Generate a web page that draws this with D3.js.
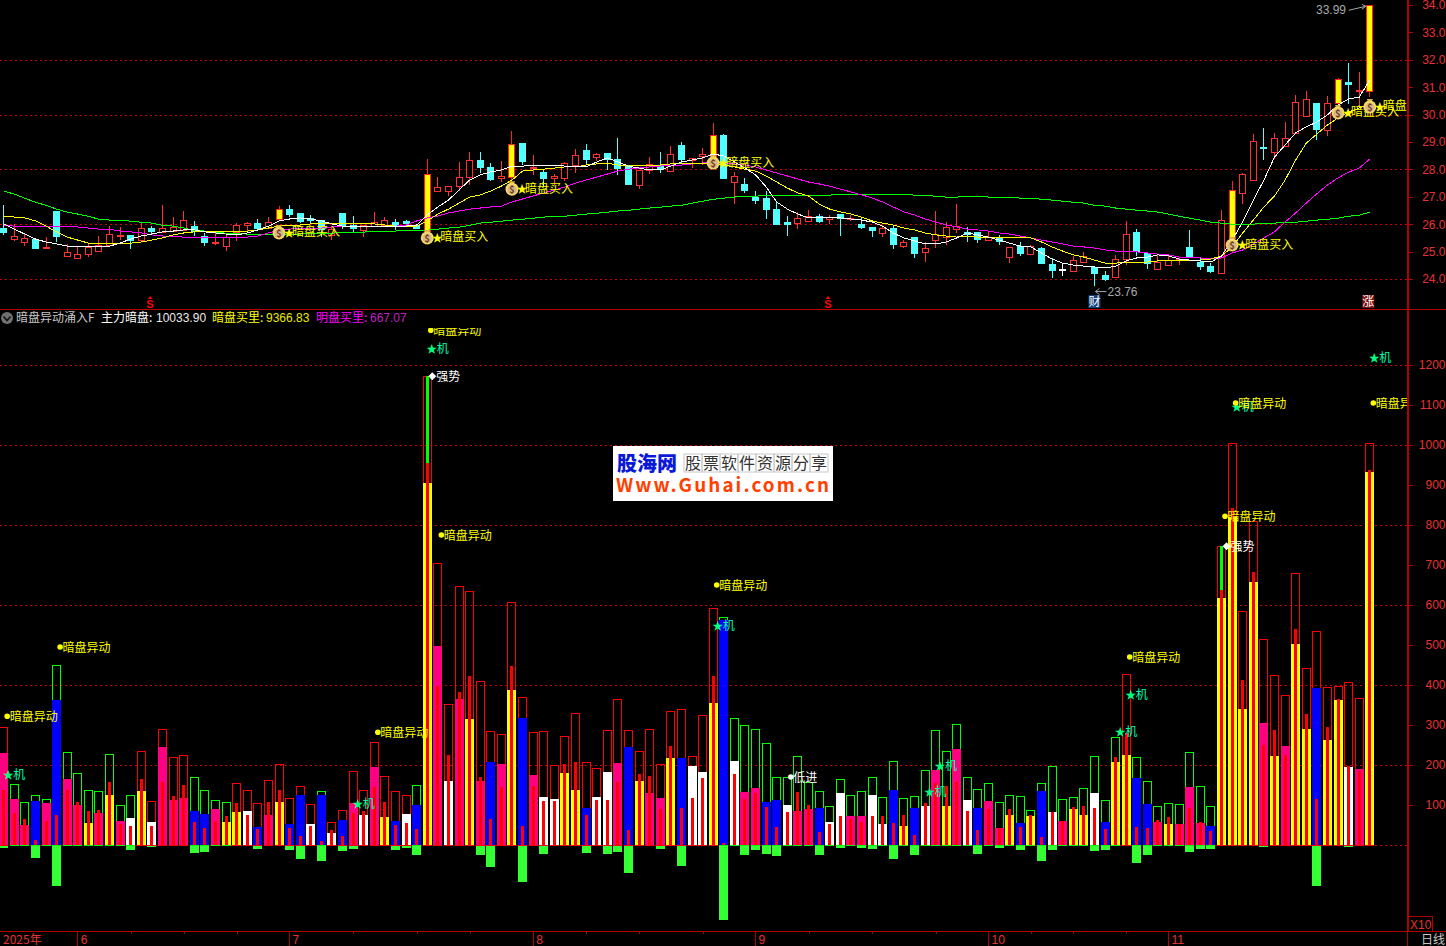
<!DOCTYPE html>
<html><head><meta charset="utf-8">
<script src="https://cdnjs.cloudflare.com/ajax/libs/d3/7.8.5/d3.min.js"></script>
<style>
html,body{margin:0;padding:0;background:#000;overflow:hidden}
svg{display:block}
text{font-family:"Noto Sans CJK SC","Liberation Sans",sans-serif}
.num{font-family:"Liberation Sans",Arial,sans-serif}
</style></head><body>
<svg id="c" width="1446" height="946"></svg>
<script>
// ---- candles (price) ----
const opens=[25.85,25.46,25.33,25.45,25.13,26.48,24.83,24.74,24.94,25.01,25.22,25.54,25.59,25.40,25.85,25.70,25.74,25.78,25.92,25.56,25.29,25.18,25.70,25.96,26.03,25.85,26.18,26.55,26.40,26.21,26.14,25.59,26.40,25.96,25.76,25.92,25.96,26.07,26.10,25.96,25.75,27.22,27.20,27.38,27.71,
28.33,28.08,27.67,27.71,28.96,28.03,27.90,27.69,27.69,28.15,28.71,28.46,28.60,28.37,28.16,27.43,27.97,28.16,27.92,28.89,28.34,28.50,28.46,29.26,27.53,27.47,26.98,26.96,26.55,26.08,26.01,26.10,26.29,26.18,26.36,26.20,26.01,25.90,25.68,25.86,25.20,25.52,24.99,25.42,25.52,25.81,
25.70,25.70,25.40,25.52,24.82,25.20,24.89,25.12,24.55,24.35,24.30,24.60,24.45,24.13,24.05,24.71,25.70,24.94,24.35,24.50,24.68,25.16,24.63,24.46,24.19,25.48,27.13,27.60,28.81,28.61,28.84,29.32,29.94,30.41,29.43,30.41,31.18,30.87,30.84];
const closes=[25.69,25.56,25.48,25.13,25.16,25.57,24.97,24.90,25.18,25.23,25.63,25.59,25.40,25.85,25.74,25.85,25.89,26.14,25.73,25.33,25.34,25.52,25.96,26.03,25.86,26.07,26.55,26.37,26.10,26.15,25.81,25.81,25.96,25.85,25.96,26.07,26.14,25.92,26.01,25.85,27.83,27.35,27.38,27.71,28.33,
28.08,27.64,27.75,28.93,28.29,28.08,27.69,27.75,28.22,28.51,28.38,28.56,28.38,28.05,27.47,27.98,28.18,28.01,28.55,28.37,28.40,28.56,29.26,27.69,27.75,27.25,26.88,26.55,25.99,26.01,26.21,26.29,26.10,26.25,26.21,26.24,25.90,25.79,25.86,25.28,25.35,24.95,25.13,25.64,25.89,25.92,
25.63,25.45,25.52,25.36,25.18,24.94,25.20,24.58,24.34,24.33,24.71,24.83,24.23,23.98,24.72,25.63,25.00,24.57,24.61,24.68,24.72,24.84,24.49,24.28,26.14,27.25,27.82,29.02,28.77,29.13,29.13,30.45,30.56,29.45,30.41,31.29,31.10,30.90,33.99];
const highs=[26.70,26.01,25.67,25.45,25.52,26.48,25.27,25.16,25.33,25.57,25.93,25.89,25.59,26.07,25.93,26.70,26.26,26.48,26.12,25.67,25.67,25.67,26.03,26.07,26.18,26.25,26.66,26.70,26.40,26.34,26.14,25.89,26.40,26.30,25.96,26.45,26.26,26.18,26.15,26.01,28.37,27.71,27.38,28.26,28.62,
28.62,28.22,28.31,29.39,28.96,28.53,28.00,27.83,28.27,28.73,28.93,28.59,28.60,29.15,28.16,27.98,28.45,28.63,28.85,28.99,28.40,28.78,29.68,29.29,27.90,27.69,27.21,27.21,26.81,26.30,26.45,26.52,26.37,26.32,26.36,26.32,26.25,25.90,25.97,25.97,25.42,25.54,25.35,26.48,26.08,26.74,
25.91,25.73,25.76,25.62,25.18,25.36,25.24,25.18,24.78,24.54,24.83,24.97,24.45,24.29,24.86,26.12,25.81,24.97,24.90,24.86,24.82,25.79,24.79,24.60,26.52,27.58,27.86,29.29,29.51,29.34,29.73,30.71,30.86,30.41,30.68,31.32,31.88,31.57,33.99];
const lows=[25.61,25.40,25.22,25.11,25.11,25.36,24.83,24.72,24.82,25.01,25.18,25.42,25.11,25.36,25.64,25.67,25.70,25.74,25.57,25.22,25.25,25.03,25.40,25.74,25.74,25.81,26.15,26.25,26.04,26.01,25.52,25.42,25.81,25.67,25.52,25.89,25.92,25.79,25.93,25.81,25.67,27.22,27.03,27.22,27.43,
27.86,27.58,27.55,27.55,28.16,27.80,27.37,27.42,27.58,27.86,28.18,28.32,27.98,27.80,27.42,27.28,27.83,27.87,27.92,28.22,28.05,28.16,28.40,27.69,26.74,27.13,26.74,26.19,25.97,25.57,25.82,26.08,26.04,26.01,25.57,26.11,25.82,25.53,25.53,25.09,25.13,24.77,24.62,25.13,25.24,25.67,
25.36,25.33,25.40,25.25,24.60,24.85,24.89,24.55,24.05,24.12,24.30,24.57,23.76,23.94,24.05,24.50,24.85,24.35,24.35,24.50,24.52,24.82,24.34,24.23,24.19,25.42,26.74,27.60,28.34,28.37,28.82,29.28,29.94,29.07,29.22,30.35,30.37,30.23,30.63];
const buyDays=[26,40,48,67,116,126,129];
const buyMarks=[25.68,25.50,27.28,28.23,25.24,30.06,30.28];
const dojiDays=[100];
// ---- moving averages (price) ----
const maWhite=[26.01,25.82,25.64,25.46,25.35,25.28,25.20,25.17,25.17,25.19,25.20,25.31,25.46,25.57,25.64,25.72,25.75,25.79,25.79,25.72,25.68,25.64,25.61,25.68,25.79,25.93,26.12,26.19,26.23,26.19,26.12,26.01,25.93,25.90,25.90,25.90,25.90,25.90,25.93,25.97,26.34,26.63,26.88,27.25,27.61,27.80,27.91,27.98,28.12,28.12,28.16,28.16,28.16,28.12,28.09,28.09,28.27,28.42,28.27,28.12,28.05,27.98,27.98,28.12,28.27,28.34,28.42,28.56,28.49,28.27,28.05,27.80,27.36,26.81,26.55,26.37,26.23,26.23,26.23,26.23,26.19,26.15,26.08,25.93,25.68,25.50,25.39,25.28,25.28,25.35,25.50,25.68,25.61,25.53,25.42,25.31,25.20,25.17,24.95,24.73,24.58,24.51,24.47,24.44,24.40,24.47,24.66,24.77,24.80,24.88,24.84,24.73,24.69,24.66,24.62,24.84,25.42,26.08,26.88,27.61,28.45,28.89,29.33,29.55,29.73,29.99,30.35,30.57,30.64,31.26];
const maYellow=[26.30,26.26,26.23,26.12,25.93,25.72,25.53,25.42,25.31,25.28,25.28,25.30,25.31,25.35,25.42,25.50,25.61,25.68,25.72,25.72,25.72,25.72,25.72,25.75,25.79,25.86,25.93,25.97,25.97,26.01,26.01,26.01,26.01,26.01,26.01,26.01,25.97,25.93,25.93,25.93,26.12,26.37,26.55,26.77,26.99,27.07,27.21,27.39,27.61,27.94,27.98,28.01,28.05,28.09,28.09,28.16,28.20,28.23,28.16,28.12,28.16,28.16,28.16,28.20,28.20,28.20,28.23,28.23,28.16,28.09,28.01,27.94,27.76,27.54,27.32,27.14,27.03,26.74,26.55,26.45,26.37,26.26,26.12,26.04,25.97,25.86,25.79,25.68,25.61,25.57,25.53,25.57,25.53,25.50,25.50,25.50,25.50,25.50,25.35,25.17,25.02,24.88,24.80,24.69,24.58,24.58,24.62,24.62,24.62,24.66,24.66,24.69,24.69,24.69,24.73,24.84,25.17,25.68,26.15,26.63,27.03,27.61,28.34,28.96,29.29,29.62,29.88,30.09,30.24,30.39];
const maMagenta=[25.97,25.93,25.93,25.90,25.90,25.90,25.90,25.90,25.86,25.82,25.82,25.75,25.72,25.68,25.61,25.57,25.55,25.53,25.50,25.50,25.50,25.50,25.52,25.53,25.57,25.68,25.79,25.82,25.86,25.86,25.86,25.90,25.90,25.92,25.93,25.93,25.93,25.93,25.97,26.12,26.23,26.30,26.41,26.48,26.55,26.59,26.63,26.66,26.81,26.92,27.03,27.14,27.25,27.36,27.50,27.61,27.72,27.83,27.94,28.01,28.05,28.09,28.12,28.16,28.16,28.20,28.23,28.27,28.23,28.20,28.16,28.09,27.98,27.87,27.76,27.65,27.54,27.47,27.39,27.28,27.18,27.07,26.96,26.81,26.63,26.45,26.34,26.19,26.08,25.97,25.90,25.82,25.79,25.75,25.68,25.64,25.57,25.50,25.42,25.35,25.28,25.20,25.17,25.13,25.06,25.02,24.99,24.99,24.95,24.91,24.88,24.80,24.77,24.77,24.73,24.77,24.95,25.06,25.28,25.50,25.72,26.08,26.41,26.77,27.11,27.43,27.69,27.90,28.05,28.38];
const maGreen=[27.21,27.10,26.95,26.80,26.69,26.55,26.44,26.37,26.29,26.18,26.15,26.15,26.11,26.07,26.04,25.96,25.93,25.86,25.78,25.75,25.71,25.67,25.67,25.64,25.64,25.64,25.64,25.64,25.64,25.67,25.67,25.67,25.71,25.71,25.71,25.75,25.75,25.75,25.78,25.78,25.78,25.82,25.86,25.89,25.96,26.04,26.07,26.11,26.15,26.18,26.22,26.26,26.29,26.29,26.33,26.37,26.40,26.44,26.48,26.51,26.55,26.59,26.62,26.66,26.69,26.77,26.84,26.91,26.95,26.99,27.02,27.02,27.06,27.06,27.06,27.06,27.06,27.06,27.06,27.10,27.10,27.10,27.10,27.10,27.10,27.10,27.06,27.06,27.02,26.99,26.99,27.02,27.02,26.99,26.99,26.99,26.95,26.95,26.91,26.88,26.84,26.80,26.77,26.69,26.66,26.59,26.55,26.51,26.48,26.44,26.37,26.29,26.22,26.15,26.07,26.04,26.00,26.00,26.00,26.04,26.04,26.07,26.07,26.11,26.15,26.18,26.22,26.29,26.33,26.44];
// ---- volume pane (units of X10) ----
const totals=[294,152,107,124,114,449,232,179,137,134,227,99,124,234,109,289,219,224,169,137,112,107,154,137,104,162,202,117,147,102,134,57,87,184,137,257,172,134,124,149,1172,705,352,647,635,409,284,277,607,369,282,284,199,272,329,207,192,287,364,287,234,289,202,334,339,222,324,592,570,317,299,289,254,169,169,222,157,134,97,164,124,134,169,119,209,117,122,187,287,234,302,169,139,154,107,124,122,87,154,197,114,119,142,222,112,269,427,219,159,97,104,102,232,147,97,747,1004,584,810,514,424,374,680,442,534,394,397,407,367,1004];
const fills=[229,114,49,109,104,362,164,99,54,79,124,59,67,134,57,244,112,117,84,77,89,57,82,84,44,74,107,52,124,52,124,29,62,104,74,194,69,59,77,99,905,497,159,364,314,160,207,202,387,317,175,120,115,180,137,92,120,182,204,244,160,130,117,217,217,197,182,355,562,210,132,142,107,112,100,85,90,92,57,130,72,72,125,52,137,47,92,97,187,97,240,112,92,110,42,75,55,72,134,82,60,90,75,130,57,207,225,167,102,57,52,52,145,55,47,617,820,340,657,305,222,247,502,290,392,262,362,195,190,932];
const kinds=("pppbpbppyp"+"ypwywpppbb"+"pyywbpybbw"+"bwbpwpybwb"+"ypwpypbpyb"+"pwwyybwwpb"+"yppybwwybw"+"ppbbwppbww"+"ppwwbybwpy"+"pwbppybybw"+"pyywbyybbp"+"ypppbyyyyp"+"ypyybyywpy").split("");
const centers=[137,79,65,12,59,74,137,107,84,87,157,52,47,165,47,157,122,150,57,42,59,72,105,75,40,107,137,42,22,47,10,37,22,79,84,144,107,50,55,40,955,397,224,382,422,170,65,144,447,47,147,110,110,202,207,75,112,112,157,37,177,172,90,247,92,117,167,422,4,177,115,130,95,45,82,132,100,32,52,72,65,57,72,72,55,75,25,105,154,147,157,85,37,90,42,90,45,75,20,82,60,95,97,92,40,220,279,45,42,62,70,52,92,57,35,637,842,412,682,250,287,225,540,327,115,295,365,197,185,937];
const negatives=[8,0,0,32,0,102,0,0,0,0,0,0,12,0,5,0,0,0,20,17,0,0,0,0,10,0,0,12,35,2,40,0,15,10,0,0,0,12,8,25,0,0,0,0,0,25,55,0,0,92,0,22,0,0,0,20,0,22,17,70,0,0,10,0,52,0,0,0,187,0,25,12,22,27,2,0,0,25,0,8,0,8,10,0,35,0,25,0,0,0,0,2,22,0,8,0,12,0,40,12,0,0,0,15,12,0,0,45,25,0,0,0,17,10,10,0,0,0,0,5,0,0,0,0,102,0,0,5,0,0];
const rimKinds="r"+"g".repeat(12)+"r".repeat(5)+"g".repeat(4)+"r".repeat(8)+"g"+"r".repeat(8)+"g"+"r".repeat(28)+"g".repeat(38)+"r"+"g".repeat(8)+"r".repeat(15);
const surgeBars=[40,115];
const surgeTops=[1172,747];
// ---- annotations ----
const abnormalBars=[0,5,35,41,40,67,106,115,116,129];
const abnormalLevels=[322,495,282,775,1287,650,470,822,1105,1105];
const jiBars=[0,33,40,67,87,88,105,106,116,129];
const jiLevels=[177,105,1242,550,135,200,285,377,1097,1220];
const strongBars=[40,115];
const strongLevels=[1172,747];
const lowEntryBars=[74];
const lowEntryLevels=[170];
// ---- axes ----
const priceTicks=[24,25,26,27,28,29,30,31,32,33,34];
const priceGrid=[24,26,28,30,32];
const volTicks=[100,200,300,400,500,600,700,800,900,1000,1100,1200];
const volGrid=[0,200,400,600,800,1000,1200];
const monthBars=[7,27,50,71,93,110];
const monthLabels=["6","7","8","9","10","11"];
const minorBars=[12,17,22,33,39,44,55,60,66,76,82,88,97,101,106];

const RED="#ff3232", AXIS="#b00000", DOT="#c80000", TICK="#e63232";
const colour={p:"#ff0080",b:"#0000ff",w:"#ffffff",y:"#ffff00"};
const svg=d3.select("#c");
const x=d3.scaleLinear().domain([0,129]).range([3.67,1369.8]);
const yP=d3.scaleLinear().domain([24,34]).range([279,5]);
const yV=d3.scaleLinear().domain([0,1200]).range([845,365]);
const px=i=>Math.floor(x(i));
const defs=svg.append("defs");
defs.append("clipPath").attr("id","topClip").append("rect").attr("width",1407).attr("height",309);
defs.append("clipPath").attr("id","lowClip").append("rect").attr("y",328).attr("width",1407).attr("height",604);
const crisp=g=>g.attr("shape-rendering","crispEdges");

// grid
const grid=crisp(svg.append("g"));
const dots=(vals,scale)=>grid.selectAll(null).data(vals).enter().append("line")
  .attr("x1",0).attr("x2",1407).attr("y1",d=>Math.round(scale(d))+.5).attr("y2",d=>Math.round(scale(d))+.5)
  .attr("stroke",DOT).attr("stroke-dasharray","2 3");
dots(priceGrid,yP); dots(volGrid,yV);

// volume pane
const vol=crisp(svg.append("g").attr("clip-path","url(#lowClip)"));
const idx=d3.range(totals.length);
vol.selectAll(".neg").data(idx.filter(i=>negatives[i]>0)).enter().append("rect")
  .attr("x",i=>px(i)-4).attr("width",9).attr("y",yV(0)).attr("height",i=>yV(-negatives[i])-yV(0)).attr("fill","#33ff33");
vol.selectAll(".rim").data(idx).enter().append("rect")
  .attr("x",i=>px(i)-3.5).attr("width",8).attr("y",i=>Math.round(yV(totals[i]))+.5).attr("height",i=>yV(0)-Math.round(yV(totals[i]))-.5)
  .attr("fill","none").attr("stroke",i=>rimKinds[i]==="g"?"#00ff00":"#ff0000");
vol.selectAll(".fill").data(idx).enter().append("rect")
  .attr("x",i=>px(i)-4).attr("width",9).attr("y",i=>yV(fills[i])).attr("height",i=>yV(0)-yV(fills[i])).attr("fill",i=>colour[kinds[i]]);
vol.selectAll(".surge").data(surgeBars).enter().append("rect")
  .attr("x",i=>px(i)-1).attr("width",3).attr("y",(i,k)=>yV(surgeTops[k])).attr("height",(i,k)=>yV(0)-yV(surgeTops[k])).attr("fill","#00ff00");
vol.selectAll(".center").data(idx).enter().append("rect")
  .attr("x",i=>px(i)-1).attr("width",3).attr("y",i=>yV(centers[i])).attr("height",i=>yV(0)-yV(centers[i])).attr("fill","#ff0000");

// candles
const pricePane=svg.append("g").attr("clip-path","url(#topClip)");
const can=crisp(pricePane.append("g"));
const isBuy=i=>buyDays.includes(i), isDoji=i=>dojiDays.includes(i);
const candleColour=i=>isDoji(i)?"#ffffff":isBuy(i)?"#ff2020":closes[i]>=opens[i]?RED:"#54ffff";
can.selectAll(".wick").data(idx).enter().append("line")
  .attr("x1",i=>px(i)+.5).attr("x2",i=>px(i)+.5).attr("y1",i=>yP(highs[i])).attr("y2",i=>yP(lows[i])).attr("stroke",candleColour);
can.selectAll(".body").data(idx).enter().append("rect")
  .attr("x",i=>px(i)-2.5).attr("width",6)
  .attr("y",i=>Math.round(yP(Math.max(opens[i],closes[i])))+.5)
  .attr("height",i=>Math.max(1,Math.round(yP(Math.min(opens[i],closes[i]))-yP(Math.max(opens[i],closes[i])))))
  .attr("fill",i=>isBuy(i)?"#ffff00":(closes[i]>=opens[i]&&!isDoji(i))?"#000":candleColour(i))
  .attr("stroke",candleColour);
// moving averages
const mkLine=d3.line().x((d,i)=>x(i)).y(d=>yP(d));
[[maGreen,"#00ff00"],[maMagenta,"#ff00ff"],[maYellow,"#ffff00"],[maWhite,"#ffffff"]].forEach(([s,c])=>{
  pricePane.append("path").datum(s).attr("d",mkLine).attr("fill","none").attr("stroke",c).attr("stroke-width",1).attr("shape-rendering","crispEdges");
});
// buy markers
const bag=pricePane.selectAll(".bag").data(buyDays).enter().append("g").attr("transform",(d,k)=>`translate(${x(d)},${yP(buyMarks[k])})`);
bag.append("path").attr("d","M-3,-8 L3,-8 L1.5,-4 L-1.5,-4 Z").attr("fill","#e0b040");
bag.append("circle").attr("r",6.5).attr("fill","#f4d868");
bag.append("circle").attr("r",4.6).attr("cy",.5).attr("fill","#d8b888");
bag.append("text").text("$").attr("text-anchor","middle").attr("y",4).attr("font-size",9).attr("font-weight","bold").attr("fill","#703818");
bag.append("text").text("★").attr("x",4.5).attr("y",4).attr("font-size",11).attr("fill","#ffff00");
bag.append("text").text("暗盘买入").attr("x",13).attr("y",3.5).attr("font-size",12).attr("fill","#ffff00");

// low/high notes
const note=svg.append("g");
note.append("text").attr("class","num").text("33.99").attr("x",1316).attr("y",14).attr("font-size",12).attr("fill","#a8a8a8");
note.append("path").attr("d",`M${x(129)-21},${yP(33.99)+5} L${x(129)-4},${yP(33.99)+1} M${x(129)-8},${yP(33.99)-1} L${x(129)-4},${yP(33.99)+1} L${x(129)-8},${yP(33.99)+4}`).attr("stroke","#a8a8a8").attr("fill","none");
note.append("path").attr("d",`M${x(103)+1},${yP(23.76)+6} H${x(103)+12} M${x(103)+5},${yP(23.76)+3} L${x(103)+1},${yP(23.76)+6} L${x(103)+5},${yP(23.76)+9}`).attr("stroke","#a8a8a8").attr("fill","none");
note.append("text").attr("class","num").text("23.76").attr("x",x(103)+13).attr("y",yP(23.76)+10).attr("font-size",12).attr("fill","#a8a8a8");

// event markers in the price pane
const dollarBars=[14,78];
const dollars=svg.selectAll(".ev").data(dollarBars).enter().append("g").attr("transform",d=>`translate(${px(d)-1},0)`);
dollars.append("path").attr("d","M-2.5,299 L0,296 L2.5,299 Z").attr("fill","#ff0000");
dollars.append("text").text("S").attr("class","num").attr("text-anchor","middle").attr("y",308).attr("font-size",11).attr("font-weight","bold").attr("fill","#ff0000");
[[103,"财","#10407a","#ffffff"],[129,"涨","#7a1010","#ffffff"]].forEach(([b,t,bg,fg])=>{
  const c=x(b)-(b===103?0:1.5);
  svg.append("rect").attr("x",c-6).attr("y",295).attr("width",12).attr("height",13).attr("fill",bg);
  svg.append("text").text(t).attr("x",c).attr("y",306).attr("text-anchor","middle").attr("font-size",12).attr("fill",fg);
});

// volume annotations
const ann=svg.append("g").attr("clip-path","url(#lowClip)");
const put=(bars,levels,fn)=>bars.forEach((b,k)=>fn(ann.append("g").attr("transform",`translate(${x(b)},${yV(levels[k])})`)));
put(jiBars,jiLevels,g=>{
  g.append("text").text("★").attr("x",-1).attr("y",5).attr("font-size",11).attr("fill","#00ff80");
  g.append("text").text("机").attr("x",9.5).attr("y",5).attr("font-size",12).attr("fill","#00ffb0");
});
put(abnormalBars,abnormalLevels,g=>{
  g.append("circle").attr("cx",3.5).attr("r",2.8).attr("fill","#ffff00");
  g.append("text").text("暗盘异动").attr("x",6).attr("y",5).attr("font-size",12).attr("fill","#ffff00");
});
put(strongBars,strongLevels,g=>{
  g.append("path").attr("d",d3.symbol(d3.symbolDiamond2,40)()).attr("transform","translate(5,0)").attr("fill","#ffffff");
  g.append("text").text("强势").attr("x",9).attr("y",5).attr("font-size",12).attr("fill","#ffffff");
});
put(lowEntryBars,lowEntryLevels,g=>{
  g.append("circle").attr("cx",3.5).attr("r",2.8).attr("fill","#ffffff");
  g.append("text").text("低进").attr("x",6).attr("y",5).attr("font-size",12).attr("fill","#ffffff");
});

// frame and axes
const frame=crisp(svg.append("g"));
const hl=(y,x1,x2)=>frame.append("line").attr("x1",x1).attr("x2",x2).attr("y1",y+.5).attr("y2",y+.5).attr("stroke",AXIS);
hl(309,0,1446); hl(931,0,1446);
frame.append("line").attr("x1",1408).attr("x2",1408).attr("y1",0).attr("y2",931).attr("stroke",AXIS).attr("stroke-width",2);
frame.append("line").attr("x1",1407.5).attr("x2",1407.5).attr("y1",931).attr("y2",946).attr("stroke",AXIS);

const styleAxis=g=>{
  g.select(".domain").remove();
  g.selectAll("line").attr("stroke",AXIS).attr("shape-rendering","crispEdges");
  g.selectAll("text").attr("class","num").attr("fill",TICK).attr("font-size",12).attr("font-family","Liberation Sans");
};
const rightAxis=(scale,vals,fmt)=>{
  const g=svg.append("g").attr("transform","translate(1408,0)")
    .call(d3.axisRight(scale).tickValues(vals).tickFormat(fmt).tickSize(5)).call(styleAxis);
  g.selectAll("text").attr("text-anchor","end").attr("x",37.5);
};
rightAxis(yP,priceTicks,d3.format(".1f"));
rightAxis(yV,volTicks,d3.format("d"));
const bx=d3.scaleOrdinal().domain(monthLabels).range(monthBars.map(b=>x(b)-.5));
const bottom=svg.append("g").attr("transform","translate(0,932)")
  .call(d3.axisBottom(bx).tickValues(monthLabels).tickSize(14)).call(styleAxis);
bottom.selectAll("text").attr("text-anchor","start").attr("x",3).attr("y",12).attr("dy",0);
svg.append("g").attr("transform","translate(0,932)")
  .call(d3.axisBottom(x).tickValues(minorBars).tickFormat("").tickSize(2)).call(styleAxis);
svg.append("text").text("2025年").attr("x",3).attr("y",944).attr("font-size",12).attr("fill",TICK);
svg.append("rect").attr("x",1408.5).attr("y",916.5).attr("width",24).attr("height",15).attr("fill","none").attr("stroke",AXIS).attr("shape-rendering","crispEdges");
svg.append("text").text("X10").attr("class","num").attr("x",1410).attr("y",929).attr("font-size",12).attr("fill",TICK);
svg.append("text").text("日线").attr("x",1421).attr("y",944).attr("font-size",12).attr("fill","#c8c8c8");

// header
const hy=322;
const head=[[16,"暗盘异动涌入F","#c8c8c8",0],[101,"主力暗盘:","#ffffff",0],[156,"10033.90","#e8e8e8",1],[212,"暗盘买里:","#ffff00",0],[266,"9366.83","#e8e800",1],[316,"明盘买里:","#ff00ff",0],[370,"667.07","#c020c0",1]];
head.forEach(([hx,t,c,n])=>svg.append("text").text(t).attr("x",hx).attr("y",hy).attr("font-size",12).attr("fill",c).attr("class",n?"num":null));
svg.append("circle").attr("cx",7).attr("cy",318).attr("r",6).attr("fill","#707070");
svg.append("path").attr("d","M3.5,316.5 L7,320.5 L10.5,316.5").attr("stroke","#101010").attr("stroke-width",1.6).attr("fill","none");

// watermark
const wm=svg.append("g");
wm.append("rect").attr("x",613).attr("y",446).attr("width",220).attr("height",55).attr("fill","#ffffff");
wm.append("text").text("股海网").attr("x",617).attr("y",471).attr("font-size",20).attr("font-weight","900").attr("fill","#0a18d8");
const wmChars="股票软件资源分享".split("");
const wmx=d3.scaleBand().domain(d3.range(8)).range([684,828]);
wm.selectAll(".cell").data(wmChars).enter().append("rect").attr("x",(d,i)=>wmx(i)).attr("y",454).attr("width",wmx.bandwidth()).attr("height",18).attr("fill","none").attr("stroke","#c8c8c8");
wm.selectAll(".ch").data(wmChars).enter().append("text").text(d=>d).attr("x",(d,i)=>wmx(i)+wmx.bandwidth()/2).attr("y",468.5).attr("text-anchor","middle").attr("font-size",16).attr("fill","#333");
wm.append("text").text("Www.Guhai.com.cn").attr("x",616).attr("y",492).attr("font-size",18.8).attr("font-weight","bold").attr("font-family","Liberation Sans").attr("fill","#ff4000").attr("textLength",213);
</script>
</body></html>
